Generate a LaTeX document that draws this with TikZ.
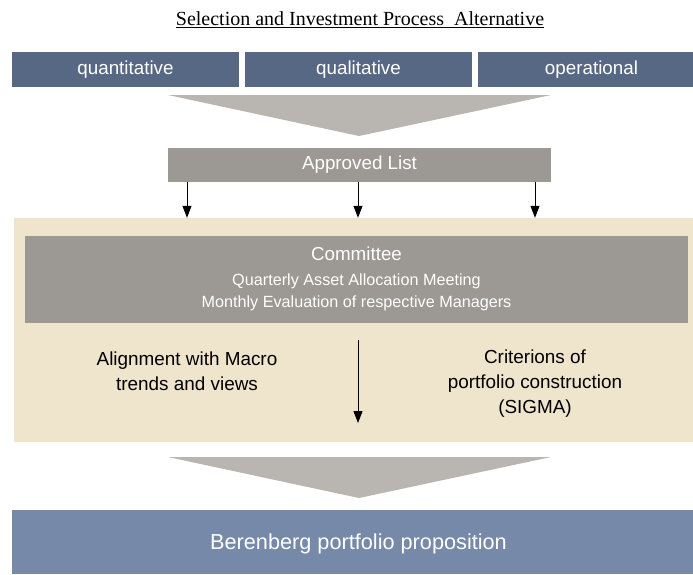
\documentclass[tikz,border=0pt]{standalone}
\usepackage{fontspec}
\setmainfont{Liberation Sans}
\newfontfamily\titlefont{Liberation Serif}
\usetikzlibrary{arrows.meta}
\definecolor{slate}{RGB}{86,104,131}
\definecolor{funnelgray}{RGB}{185,182,178}
\definecolor{boxgray}{RGB}{156,152,147}
\definecolor{panelbeige}{RGB}{239,228,204}
\definecolor{bottomblue}{RGB}{118,137,168}
\tikzset{
	crit/.style={fill=slate, text=white, inner sep=0pt, minimum width=227, minimum height=35, font=\fontsize{18.8}{22}\selectfont},
	graybox/.style={fill=boxgray, text=white, inner sep=0pt},
	note/.style={align=center, font=\fontsize{18.9}{25}\selectfont},
	funnel/.style={fill=funnelgray}
}
\begin{document}
\begin{tikzpicture}[x=1pt, y=-1pt, line join=round, >={Triangle[length=12pt,width=9pt]}]
	\useasboundingbox (0,0) rectangle (693,574);
	\clip (0,0) rectangle (693,574);
	\path 
	(360,20) node[font=\titlefont\fontsize{20}{24}\selectfont] (title) {\underline{Selection and Investment Process\ \ Alternative}}
	(125.5,69.5) node[crit] (quant) {quantitative}
	(358.5,69.5) node[crit] (qual) {qualitative}
	(591.5,69.5) node[crit] (oper) {operational};
	\fill[funnel] (168,95)--(551,95)--(359,136)--cycle; % oben
	\path 
	(359.5,164.5) node[graybox, minimum width=383, minimum height=34, font=\fontsize{18.8}{22}\selectfont] (approved) {Approved List}
	(356.5,330) node[fill=panelbeige, minimum width=685, minimum height=224] (panel) {}
	(356.5,279) node[graybox, minimum width=663, minimum height=87, align=center, font=\fontsize{16.2}{22}\selectfont] (committee) 
		{{\fontsize{18.8}{22}\selectfont Committee}\\[3pt] Quarterly Asset Allocation Meeting\\ Monthly Evaluation of respective Managers}
	(187,371.5) node[note] (align) {Alignment with Macro\\ trends and views}
	(535,383.5) node[note] (sigma) {Criterions of\\ portfolio construction\\ (SIGMA)}
	(358,340) coordinate (mtop)
	(358,423) coordinate (mbot);
	\draw[->, line width=1pt] (approved.south -| align)--(align |- panel.north);
	\draw[->, line width=1pt] (approved.south -| mtop)--(mtop |- panel.north);
	\draw[->, line width=1pt] (approved.south -| sigma)--(sigma |- panel.north);
	\draw[->, line width=1pt] (mtop)--(mbot);
	\fill[funnel] (168,457)--(551,457)--(359,498)--cycle; % unten
	\path (358.5,542) node[fill=bottomblue, text=white, text depth=0pt, minimum width=693, minimum height=64, font=\fontsize{21.7}{26}\selectfont] (result) {Berenberg portfolio proposition};
\end{tikzpicture}
\end{document}
